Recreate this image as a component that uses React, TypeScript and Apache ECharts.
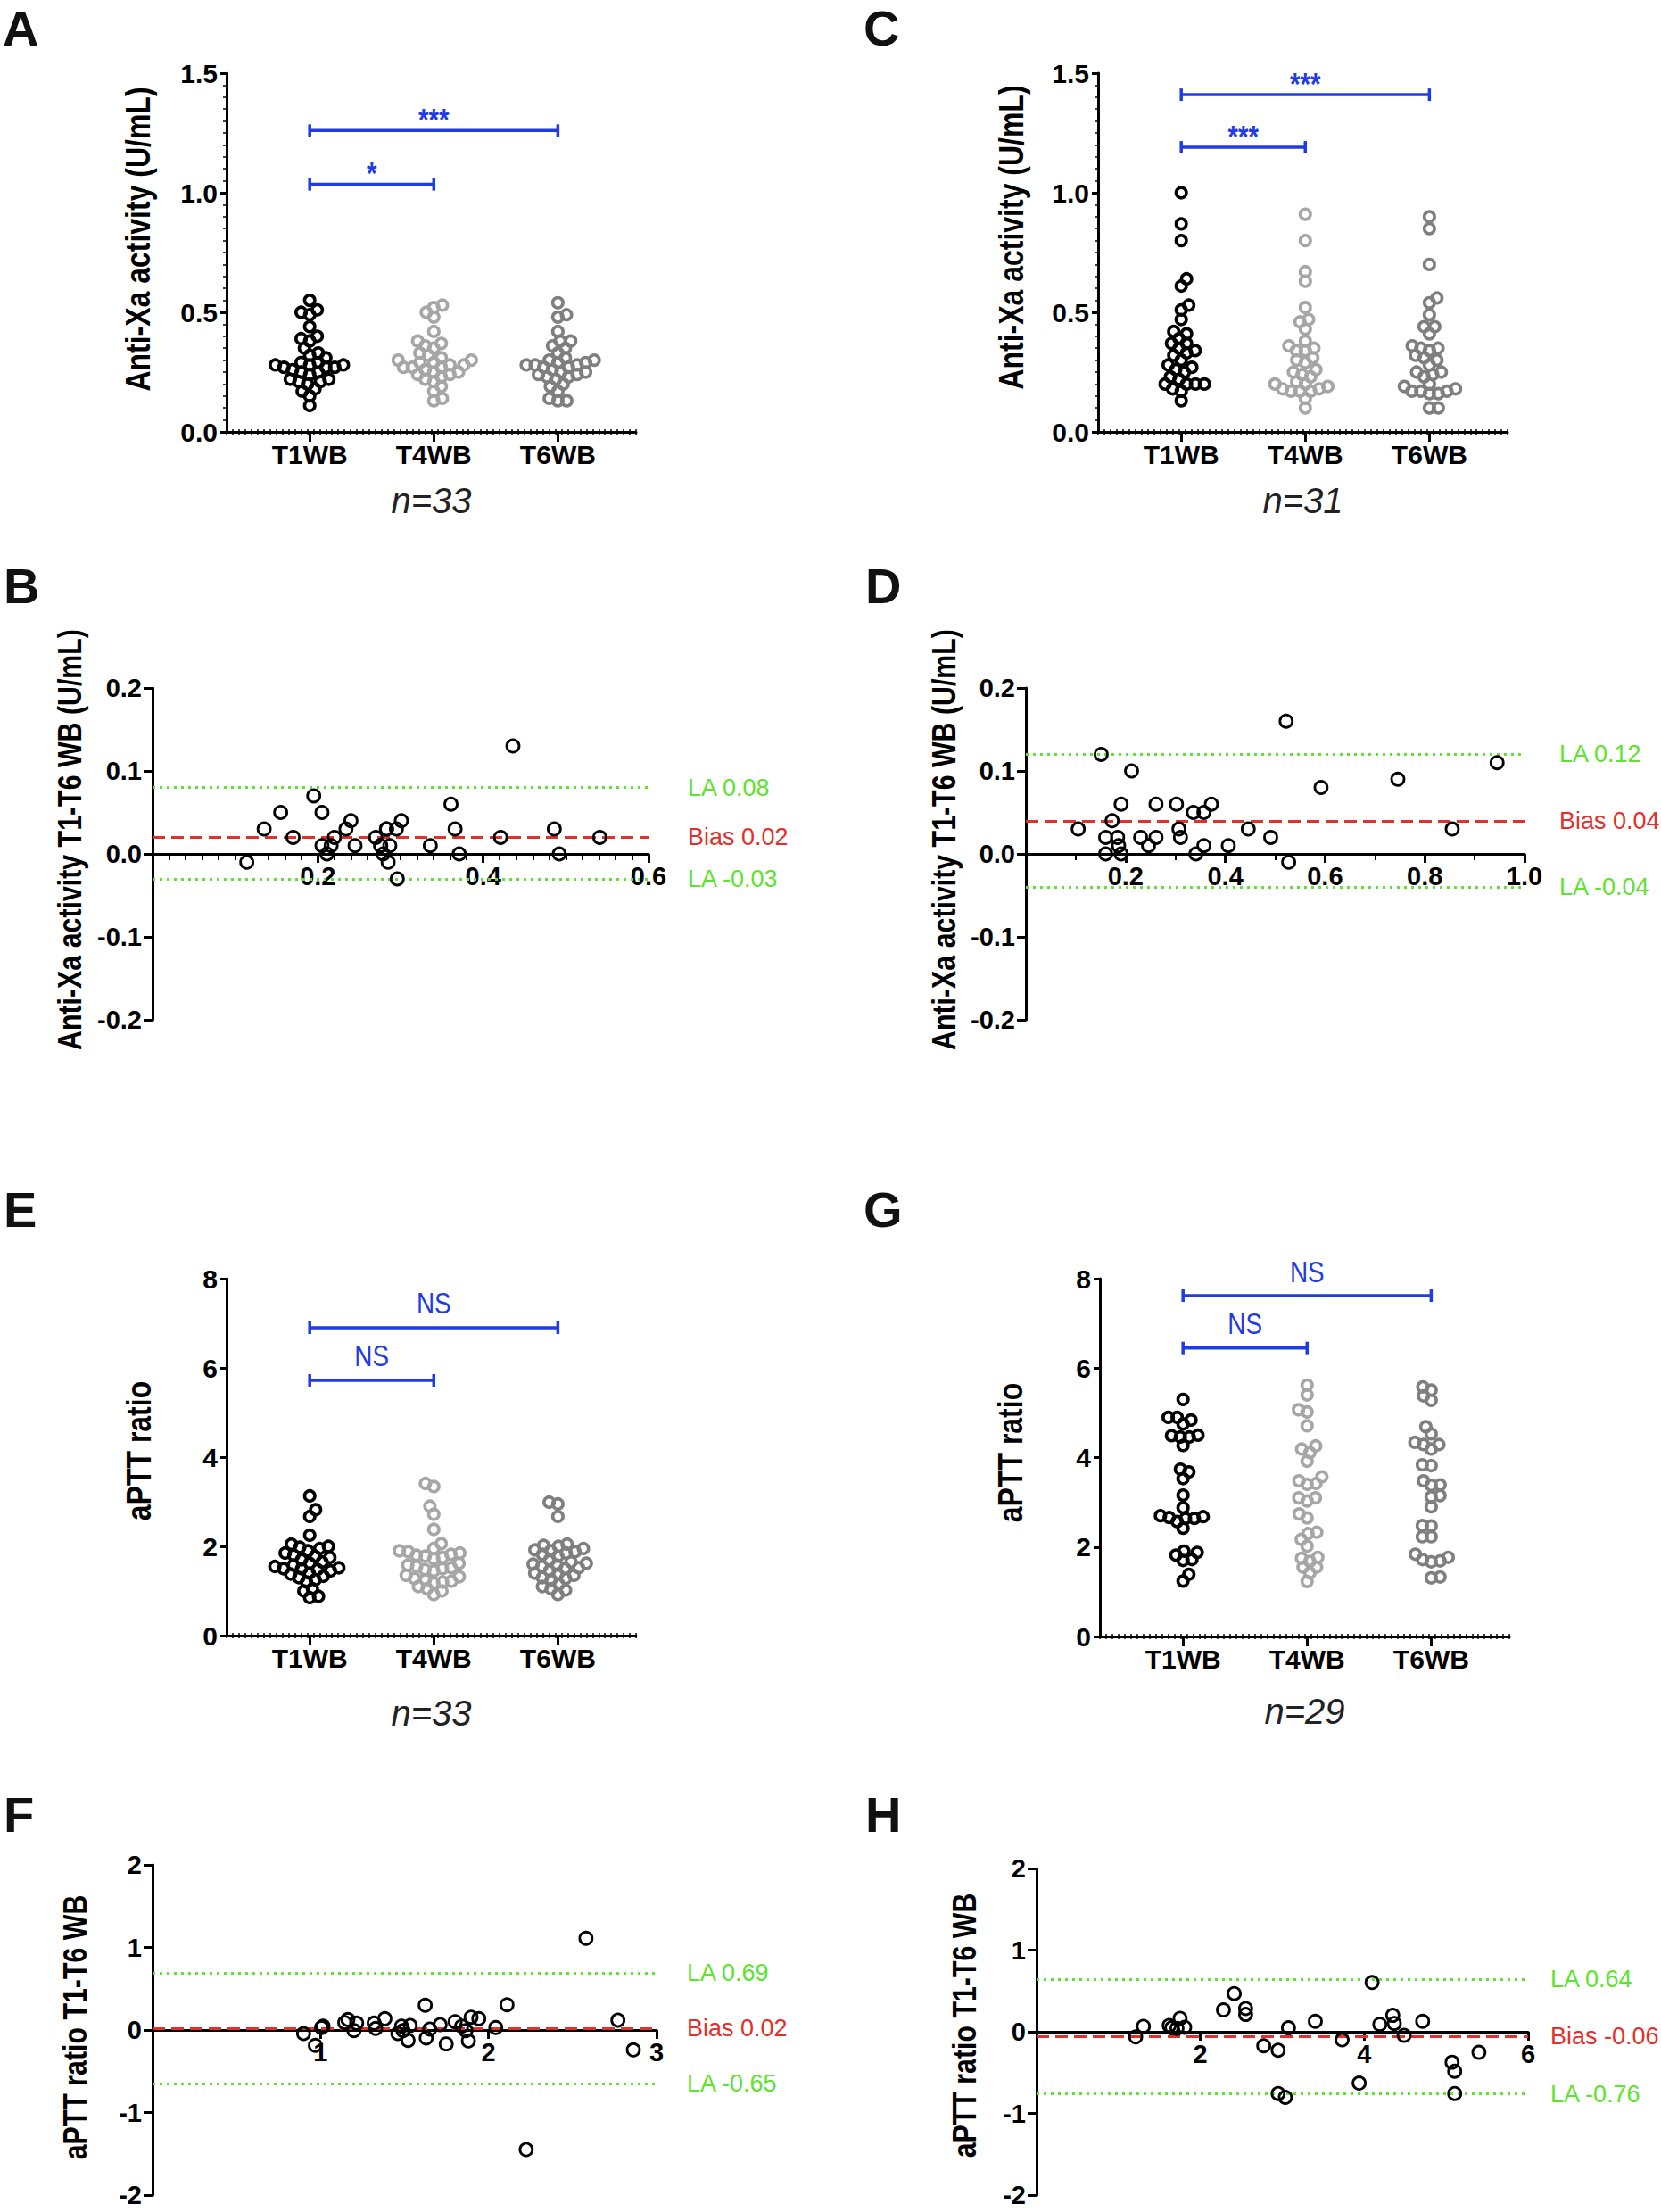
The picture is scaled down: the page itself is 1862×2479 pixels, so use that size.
import React, { useEffect, useRef } from 'react';
import * as echarts from 'echarts';

const FONT = "'Liberation Sans', Arial, Helvetica, sans-serif";
const SQUEEZE = 0.82;
const GROUPS = ['T1WB', 'T4WB', 'T6WB'];
const DOT_COLORS = ['#000000', '#a6a6a6', '#7f7f7f'];
const BLUE = '#1f3be4';
const GREEN = '#5fe230';
const RED = '#e3302b';

// ---------- Panel A: anti-Xa (U/mL), n=33 ----------
const A_T1 = [0.55, 0.51, 0.50, 0.49, 0.44, 0.40, 0.39, 0.38, 0.35, 0.33, 0.32, 0.31, 0.29, 0.29, 0.28, 0.28, 0.28, 0.27, 0.27, 0.27, 0.26, 0.25, 0.25, 0.24, 0.22, 0.22, 0.21, 0.21, 0.20, 0.18, 0.17, 0.15, 0.11];
const A_T4 = [0.53, 0.52, 0.50, 0.48, 0.42, 0.38, 0.37, 0.36, 0.35, 0.33, 0.32, 0.31, 0.30, 0.30, 0.29, 0.29, 0.28, 0.28, 0.27, 0.27, 0.27, 0.26, 0.25, 0.25, 0.24, 0.24, 0.23, 0.22, 0.21, 0.19, 0.17, 0.14, 0.13];
const A_T6 = [0.54, 0.49, 0.48, 0.42, 0.38, 0.38, 0.36, 0.35, 0.33, 0.31, 0.30, 0.30, 0.29, 0.29, 0.28, 0.28, 0.28, 0.27, 0.27, 0.26, 0.25, 0.25, 0.24, 0.24, 0.23, 0.23, 0.22, 0.20, 0.19, 0.17, 0.14, 0.13, 0.13];
const A_BAR_FROM = [0, 0];
const A_BAR_TO = [2, 1];
const A_BAR_Y = [1.26, 1.035];
const A_BAR_TXT = ['***', '*'];

// ---------- Panel C: anti-Xa (U/mL), n=31 ----------
const C_T1 = [1.00, 0.87, 0.80, 0.64, 0.61, 0.53, 0.51, 0.47, 0.42, 0.41, 0.39, 0.37, 0.37, 0.35, 0.34, 0.33, 0.32, 0.30, 0.28, 0.27, 0.26, 0.25, 0.23, 0.22, 0.20, 0.20, 0.20, 0.20, 0.18, 0.17, 0.13];
const C_T4 = [0.91, 0.80, 0.67, 0.63, 0.52, 0.47, 0.46, 0.43, 0.38, 0.36, 0.35, 0.34, 0.34, 0.31, 0.30, 0.29, 0.26, 0.25, 0.24, 0.23, 0.21, 0.20, 0.20, 0.19, 0.18, 0.18, 0.17, 0.17, 0.17, 0.14, 0.10];
const C_T6 = [0.90, 0.85, 0.70, 0.56, 0.54, 0.49, 0.44, 0.44, 0.41, 0.36, 0.35, 0.35, 0.34, 0.32, 0.31, 0.30, 0.28, 0.25, 0.25, 0.24, 0.23, 0.19, 0.17, 0.18, 0.20, 0.16, 0.17, 0.16, 0.17, 0.10, 0.10];
const C_BAR_FROM = [0, 0];
const C_BAR_TO = [2, 1];
const C_BAR_Y = [1.41, 1.19];
const C_BAR_TXT = ['***', '***'];

// ---------- Panel E: aPTT ratio, n=33 ----------
const E_T1 = [3.13, 2.82, 2.67, 2.25, 2.05, 2.00, 1.98, 1.95, 1.90, 1.85, 1.80, 1.78, 1.75, 1.70, 1.65, 1.62, 1.58, 1.55, 1.52, 1.50, 1.50, 1.48, 1.45, 1.40, 1.38, 1.33, 1.30, 1.25, 1.20, 1.05, 1.00, 0.88, 0.85];
const E_T4 = [3.41, 3.34, 2.90, 2.72, 2.38, 2.06, 1.95, 1.90, 1.88, 1.85, 1.82, 1.80, 1.78, 1.75, 1.72, 1.62, 1.58, 1.55, 1.52, 1.50, 1.48, 1.45, 1.35, 1.32, 1.28, 1.25, 1.22, 1.20, 1.18, 1.10, 1.05, 1.00, 0.92];
const E_T6 = [2.99, 2.95, 2.67, 2.05, 2.02, 2.00, 1.95, 1.92, 1.90, 1.88, 1.85, 1.82, 1.78, 1.70, 1.65, 1.62, 1.60, 1.58, 1.55, 1.52, 1.50, 1.45, 1.40, 1.38, 1.35, 1.30, 1.28, 1.25, 1.15, 1.10, 1.05, 1.02, 0.92];
const E_BAR_FROM = [0, 0];
const E_BAR_TO = [2, 1];
const E_BAR_Y = [6.9, 5.72];
const E_BAR_TXT = ['NS', 'NS'];

// ---------- Panel G: aPTT ratio, n=29 ----------
const G_T1 = [5.30, 4.90, 4.90, 4.84, 4.75, 4.50, 4.49, 4.46, 4.46, 4.27, 3.74, 3.68, 3.53, 3.16, 2.88, 2.70, 2.68, 2.66, 2.64, 2.64, 2.57, 2.42, 1.91, 1.88, 1.82, 1.72, 1.70, 1.39, 1.24];
const G_T4 = [5.62, 5.40, 5.07, 5.02, 4.71, 4.26, 4.19, 4.11, 3.92, 3.57, 3.48, 3.42, 3.40, 3.10, 3.10, 3.03, 2.74, 2.65, 2.33, 2.30, 2.17, 2.02, 1.77, 1.75, 1.68, 1.55, 1.55, 1.42, 1.23];
const G_T6 = [5.58, 5.51, 5.38, 5.28, 4.69, 4.53, 4.34, 4.29, 4.29, 4.19, 3.84, 3.82, 3.48, 3.39, 3.38, 3.15, 3.12, 2.90, 2.48, 2.47, 2.23, 2.23, 1.84, 1.77, 1.72, 1.69, 1.67, 1.33, 1.31];
const G_BAR_FROM = [0, 0];
const G_BAR_TO = [2, 1];
const G_BAR_Y = [7.62, 6.45];
const G_BAR_TXT = ['NS', 'NS'];

// ---------- Panel B: Bland-Altman anti-Xa (mean vs T1-T6 difference) ----------
const B_MEAN = [0.114, 0.135, 0.155, 0.170, 0.195, 0.205, 0.205, 0.211, 0.216, 0.220, 0.234, 0.240, 0.245, 0.270, 0.276, 0.279, 0.283, 0.287, 0.285, 0.295, 0.296, 0.301, 0.336, 0.361, 0.366, 0.371, 0.421, 0.436, 0.486, 0.492, 0.541, 0.283, 0.276];
const B_DIFF = [-0.010, 0.030, 0.050, 0.020, 0.070, 0.050, 0.010, 0.000, 0.010, 0.020, 0.030, 0.040, 0.010, 0.020, 0.010, 0.000, 0.030, 0.010, -0.010, 0.030, -0.030, 0.040, 0.010, 0.060, 0.030, 0.000, 0.020, 0.130, 0.030, 0.000, 0.020, 0.030, 0.010];
const B_STATS = [0.079, 0.022, -0.033]; // upper LA, bias, lower LA

// ---------- Panel D ----------
const D_MEAN = [0.105, 0.151, 0.160, 0.160, 0.173, 0.184, 0.186, 0.191, 0.191, 0.212, 0.230, 0.246, 0.261, 0.261, 0.302, 0.307, 0.310, 0.336, 0.341, 0.357, 0.357, 0.372, 0.406, 0.446, 0.491, 0.522, 0.527, 0.592, 0.746, 0.855, 0.945];
const D_DIFF = [0.030, 0.120, 0.020, 0.000, 0.040, 0.020, 0.010, 0.000, 0.060, 0.100, 0.020, 0.010, 0.060, 0.020, 0.060, 0.030, 0.020, 0.050, 0.000, 0.050, 0.010, 0.060, 0.010, 0.030, 0.020, 0.160, -0.010, 0.080, 0.090, 0.030, 0.110];
const D_STATS = [0.121, 0.042, -0.037];

// ---------- Panel F ----------
const F_MEAN = [0.899, 0.969, 1.006, 1.015, 1.144, 1.163, 1.199, 1.215, 1.319, 1.328, 1.383, 1.460, 1.482, 1.491, 1.521, 1.534, 1.623, 1.629, 1.650, 1.712, 1.748, 1.801, 1.840, 1.865, 1.880, 1.896, 1.942, 2.043, 2.110, 2.224, 2.580, 2.770, 2.862];
const F_DIFF = [-0.043, -0.187, 0.029, 0.047, 0.090, 0.126, -0.007, 0.083, 0.083, 0.018, 0.137, -0.043, 0.047, -0.007, -0.126, 0.054, 0.299, -0.097, 0.011, 0.065, -0.169, 0.101, 0.047, -0.007, -0.133, 0.155, 0.137, 0.029, 0.306, -1.449, 1.110, 0.119, -0.241];
const F_STATS = [0.688, 0.018, -0.652];

// ---------- Panel H ----------
const H_MEAN = [1.210, 1.304, 1.619, 1.651, 1.752, 1.714, 1.808, 2.281, 2.413, 2.552, 2.552, 2.773, 2.949, 2.949, 3.037, 3.075, 3.403, 3.730, 3.938, 4.096, 4.190, 4.348, 4.367, 4.487, 4.713, 5.072, 5.104, 5.104, 5.400];
const H_DIFF = [-0.062, 0.066, 0.077, 0.048, 0.165, 0.040, 0.055, 0.267, 0.468, 0.285, 0.212, -0.172, -0.227, -0.757, -0.804, 0.048, 0.128, -0.099, -0.629, 0.603, 0.091, 0.201, 0.102, -0.044, 0.128, -0.373, -0.483, -0.757, -0.252];
const H_STATS = [0.642, -0.058, -0.757];

const X_MIN = -0.67;
const X_MAX = 2.63;
const SWARM_D = 10;

function swarmOffsets(values: number[], pxPerUnit: number, d: number): number[] {
  const order = values.map((_, i) => i).sort((a, b) => values[a] - values[b]);
  const placed: { x: number; y: number }[] = [];
  const out = new Array(values.length).fill(0);
  let flip = 1;
  for (const i of order) {
    const y = values[i] * pxPerUnit;
    const near = placed.filter((p) => Math.abs(p.y - y) < d);
    const cands = [0];
    for (const p of near) {
      const dx = Math.sqrt(Math.max(0, d * d - (p.y - y) * (p.y - y)));
      cands.push(p.x + dx, p.x - dx);
    }
    cands.sort((a, b) => Math.abs(a) - Math.abs(b) || (a - b) * flip);
    let chosen = 0;
    for (const c of cands) {
      if (near.every((p) => (p.x - c) * (p.x - c) + (p.y - y) * (p.y - y) >= d * d - 0.01)) {
        chosen = c;
        break;
      }
    }
    flip = -flip;
    placed.push({ x: chosen, y });
    out[i] = chosen;
  }
  return out;
}

function vText(x: number, y: number, text: string, size: number) {
  return {
    type: 'text', x, y, rotation: Math.PI / 2, scaleX: SQUEEZE, silent: true,
    style: { text, fontSize: size, fontWeight: 'bold', fontFamily: FONT, fill: '#000', align: 'center', verticalAlign: 'middle' },
  };
}

function buildOption() {
  const grids: any[] = [];
  const xAxes: any[] = [];
  const yAxes: any[] = [];
  const series: any[] = [];
  const graphics: any[] = [];

  const axisLineStyle = { color: '#000', width: 3 };
  const tickFont = { fontSize: 30, fontWeight: 'bold', color: '#000', fontFamily: FONT };

  const dotPanels = [
    { grid: { left: 254, top: 82, width: 459, height: 402 }, yMax: 1.5, yInt: 0.5, minor: true, dec: 1,
      data: [A_T1, A_T4, A_T6], bar: [A_BAR_FROM, A_BAR_TO, A_BAR_Y, A_BAR_TXT], n: 'n=33', nameGap: 57,
      title: 'Anti-Xa activity (U/mL)', tx: 155, ty: 268 },
    { grid: { left: 1231, top: 82, width: 459, height: 402 }, yMax: 1.5, yInt: 0.5, minor: true, dec: 1,
      data: [C_T1, C_T4, C_T6], bar: [C_BAR_FROM, C_BAR_TO, C_BAR_Y, C_BAR_TXT], n: 'n=31', nameGap: 57,
      title: 'Anti-Xa activity (U/mL)', tx: 1134, ty: 266 },
    { grid: { left: 254, top: 1433, width: 459, height: 400 }, yMax: 8, yInt: 2, minor: false, dec: 0,
      data: [E_T1, E_T4, E_T6], bar: [E_BAR_FROM, E_BAR_TO, E_BAR_Y, E_BAR_TXT], n: 'n=33', nameGap: 67,
      title: 'aPTT ratio', tx: 156, ty: 1626 },
    { grid: { left: 1233, top: 1433, width: 459, height: 401 }, yMax: 8, yInt: 2, minor: false, dec: 0,
      data: [G_T1, G_T4, G_T6], bar: [G_BAR_FROM, G_BAR_TO, G_BAR_Y, G_BAR_TXT], n: 'n=29', nameGap: 64,
      title: 'aPTT ratio', tx: 1133, ty: 1628 },
  ];

  dotPanels.forEach((p) => {
    const g = grids.length;
    grids.push({ ...p.grid, containLabel: false, outerBoundsMode: 'none' });
    const xi = xAxes.length;
    xAxes.push({
      gridIndex: g, type: 'value', min: X_MIN, max: X_MAX, position: 'bottom',
      axisLine: { show: true, onZero: false, lineStyle: axisLineStyle },
      axisTick: { show: true, customValues: [0, 1, 2], length: 11, lineStyle: { color: '#000', width: 3 } },
      axisLabel: {
        show: true, customValues: [0, 1, 2], margin: 10, ...tickFont,
        formatter: (v: number) => (Math.abs(v - Math.round(v)) < 1e-6 && GROUPS[Math.round(v)]) || '',
      },
      splitLine: { show: false },
      name: p.n, nameLocation: 'middle', nameGap: p.nameGap,
      nameTextStyle: { fontSize: 40, fontStyle: 'italic', color: '#222', fontFamily: FONT },
    });
    [false, true].forEach((inside) => {
      xAxes.push({
        gridIndex: g, type: 'value', min: 0, max: 66, interval: 1, position: 'bottom',
        axisLine: { show: false, onZero: false },
        axisTick: { show: true, inside, length: 3, lineStyle: { color: '#000', width: 1.5 } },
        axisLabel: { show: false }, splitLine: { show: false },
      });
    });
    const yi = yAxes.length;
    yAxes.push({
      gridIndex: g, type: 'value', min: 0, max: p.yMax, interval: p.yInt, position: 'left',
      axisLine: { show: true, onZero: false, lineStyle: axisLineStyle },
      axisTick: { show: true, length: 7, lineStyle: { color: '#000', width: 3 } },
      minorTick: { show: p.minor, splitNumber: 10, length: 4, lineStyle: { color: '#000', width: 1.5 } },
      axisLabel: { margin: 10, ...tickFont, formatter: (v: number) => (p.dec ? v.toFixed(p.dec) : String(v)) },
      splitLine: { show: false }, minorSplitLine: { show: false },
    });
    const pxPerX = p.grid.width / (X_MAX - X_MIN);
    const pxPerY = p.grid.height / p.yMax;
    p.data.forEach((vals, gi) => {
      const offs = swarmOffsets(vals, pxPerY, SWARM_D);
      series.push({
        type: 'scatter', xAxisIndex: xi, yAxisIndex: yi, symbol: 'circle', symbolSize: 11.5, z: 3,
        silent: true, emphasis: { disabled: true },
        itemStyle: { color: 'rgba(0,0,0,0)', borderColor: DOT_COLORS[gi], borderWidth: 3.6, opacity: 1 },
        data: vals.map((v, k) => [gi + offs[k] / pxPerX, v]),
      });
    });
    const [bFrom, bTo, bY, bTxt] = p.bar as any[];
    series.push({
      type: 'custom', xAxisIndex: xi, yAxisIndex: yi, silent: true, z: 5,
      encode: { x: [0, 1], y: 2 },
      data: (bY as number[]).map((y, k) => [bFrom[k], bTo[k], y]),
      renderItem: (params: any, api: any) => {
        const y = api.value(2);
        const p1 = api.coord([api.value(0), y]);
        const p2 = api.coord([api.value(1), y]);
        const txt = bTxt[params.dataIndex];
        const isNS = txt === 'NS';
        const ls = { stroke: BLUE, lineWidth: 3.5 };
        return {
          type: 'group',
          children: [
            { type: 'line', shape: { x1: p1[0], y1: p1[1], x2: p2[0], y2: p2[1] }, style: ls },
            { type: 'line', shape: { x1: p1[0], y1: p1[1] - 7, x2: p1[0], y2: p1[1] + 7 }, style: ls },
            { type: 'line', shape: { x1: p2[0], y1: p2[1] - 7, x2: p2[0], y2: p2[1] + 7 }, style: ls },
            {
              type: 'text', x: (p1[0] + p2[0]) / 2, y: p1[1] - (isNS ? 27 : 13), scaleX: SQUEEZE,
              style: {
                text: txt, fill: BLUE, fontSize: isNS ? 34 : 36, fontWeight: isNS ? 'normal' : 'bold',
                fontFamily: FONT, align: 'center', verticalAlign: 'middle',
              },
            },
          ],
        };
      },
    });
    graphics.push(vText(p.tx, p.ty, p.title, 39));
  });

  const baPanels = [
    { grid: { left: 171, top: 771, width: 556, height: 372 }, xMax: 0.6, xInt: 0.2, xMinor: 10, xDec: 1,
      yMin: -0.2, yMax: 0.2, yInt: 0.1, yDec: 1, xs: B_MEAN, ys: B_DIFF, stats: B_STATS, dist: 44,
      title: 'Anti-Xa activity T1-T6 WB (U/mL)', tx: 78, ty: 941 },
    { grid: { left: 1150, top: 771, width: 559, height: 372 }, xMax: 1.0, xInt: 0.2, xMinor: 2, xDec: 1,
      yMin: -0.2, yMax: 0.2, yInt: 0.1, yDec: 1, xs: D_MEAN, ys: D_DIFF, stats: D_STATS, dist: 39,
      title: 'Anti-Xa activity T1-T6 WB (U/mL)', tx: 1058, ty: 941 },
    { grid: { left: 171, top: 2090, width: 565, height: 370 }, xMax: 3, xInt: 1, xMinor: 0, xDec: 0,
      yMin: -2, yMax: 2, yInt: 1, yDec: 0, xs: F_MEAN, ys: F_DIFF, stats: F_STATS, dist: 34,
      title: 'aPTT ratio T1-T6 WB', tx: 84, ty: 2272 },
    { grid: { left: 1162, top: 2094, width: 551, height: 366 }, xMax: 6, xInt: 2, xMinor: 0, xDec: 0,
      yMin: -2, yMax: 2, yInt: 1, yDec: 0, xs: H_MEAN, ys: H_DIFF, stats: H_STATS, dist: 25,
      title: 'aPTT ratio T1-T6 WB', tx: 1081, ty: 2270 },
  ];

  baPanels.forEach((p) => {
    const g = grids.length;
    grids.push({ ...p.grid, containLabel: false, outerBoundsMode: 'none' });
    const xi = xAxes.length;
    xAxes.push({
      gridIndex: g, type: 'value', min: 0, max: p.xMax, interval: p.xInt, position: 'bottom',
      offset: -p.grid.height / 2,
      axisLine: { show: true, onZero: false, lineStyle: axisLineStyle },
      axisTick: { show: true, length: 10, lineStyle: { color: '#000', width: 3 } },
      minorTick: { show: p.xMinor > 0, splitNumber: p.xMinor || 5, length: 7, lineStyle: { color: '#000', width: 2 } },
      axisLabel: {
        showMinLabel: false, margin: 10, ...tickFont, fontSize: 29,
        formatter: (v: number) => (p.xDec ? v.toFixed(p.xDec) : String(v)),
      },
      splitLine: { show: false }, minorSplitLine: { show: false },
    });
    const yi = yAxes.length;
    yAxes.push({
      gridIndex: g, type: 'value', min: p.yMin, max: p.yMax, interval: p.yInt, position: 'left',
      axisLine: { show: true, onZero: false, lineStyle: axisLineStyle },
      axisTick: { show: true, length: 10, lineStyle: { color: '#000', width: 3 } },
      axisLabel: {
        margin: 12, ...tickFont, fontSize: 29,
        formatter: (v: number) => (p.yDec ? v.toFixed(p.yDec) : String(Math.round(v))),
      },
      splitLine: { show: false },
    });
    const [up, bias, low] = p.stats;
    series.push({
      type: 'scatter', xAxisIndex: xi, yAxisIndex: yi, symbol: 'circle', symbolSize: 14, z: 4,
      silent: true, emphasis: { disabled: true },
      itemStyle: { color: 'rgba(0,0,0,0)', borderColor: '#000', borderWidth: 2.8, opacity: 1 },
      data: p.xs.map((x, k) => [x, p.ys[k]]),
      markLine: {
        silent: true, symbol: ['none', 'none'], z: 2, animation: false,
        label: { show: true, position: 'end', distance: p.dist, fontSize: 27, fontFamily: FONT },
        emphasis: { disabled: true },
        data: [
          { yAxis: up, lineStyle: { color: GREEN, type: [3, 5], width: 3 }, label: { formatter: 'LA ' + up.toFixed(2), color: GREEN } },
          { yAxis: bias, lineStyle: { color: RED, type: [14, 7], width: 3 }, label: { formatter: 'Bias ' + bias.toFixed(2), color: RED } },
          { yAxis: low, lineStyle: { color: GREEN, type: [3, 5], width: 3 }, label: { formatter: 'LA ' + low.toFixed(2), color: GREEN } },
        ],
      },
    });
    graphics.push(vText(p.tx, p.ty, p.title, 37));
  });

  const letters: [string, number, number][] = [
    ['A', 3, 31], ['C', 968, 31], ['B', 4, 656], ['D', 970, 656],
    ['E', 4, 1355], ['G', 968, 1355], ['F', 4, 2033], ['H', 970, 2033],
  ];
  letters.forEach(([t, x, y]) => {
    graphics.push({
      type: 'text', x, y, silent: true,
      style: { text: t, fontSize: 56, fontWeight: 'bold', fill: '#111', fontFamily: FONT, align: 'left', verticalAlign: 'middle' },
    });
  });

  return {
    animation: false,
    backgroundColor: '#ffffff',
    grid: grids,
    xAxis: xAxes,
    yAxis: yAxes,
    series,
    graphic: { elements: graphics },
  };
}

export default function App() {
  const ref = useRef<HTMLDivElement>(null);
  useEffect(() => {
    if (!ref.current) return;
    const chart = echarts.init(ref.current, null, { renderer: 'svg', width: 1862, height: 2479 });
    chart.setOption(buildOption() as any);
    return () => chart.dispose();
  }, []);
  return (
    <div
      ref={ref}
      style={{ position: 'absolute', left: 0, top: 0, width: 1862, height: 2479, background: '#fff' }}
    />
  );
}
